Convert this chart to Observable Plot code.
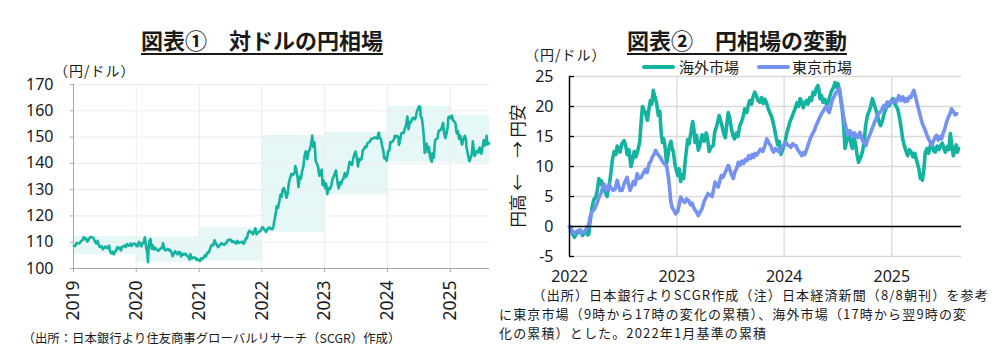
<!DOCTYPE html>
<html><head><meta charset="utf-8">
<script src="https://cdn.jsdelivr.net/npm/d3@7"></script>
<script src="https://cdn.jsdelivr.net/npm/@observablehq/plot@0.6"></script>
<style>
body{margin:0;background:#fff;}
#wrap{position:relative;width:1005px;height:364px;overflow:hidden;font-family:"Noto Sans CJK JP","Noto Sans",sans-serif;color:#1a1a1a;}
.abs{position:absolute;white-space:nowrap;z-index:2;}
.title{font-weight:bold;font-size:22px;line-height:22px;text-decoration:underline;text-decoration-thickness:1.5px;text-underline-offset:4px;text-align:center;width:400px;}
.unit{font-size:14px;line-height:18px;letter-spacing:1px;}
.leg{font-size:15px;line-height:18px;}
.sw{position:absolute;height:4px;width:33px;border-radius:2px;z-index:2;}
.cap2{font-size:13px;line-height:18px;letter-spacing:1.15px;}
</style></head>
<body><div id="wrap">
<div id="p1" class="abs" style="left:0;top:0;z-index:1"></div>
<div id="p2" class="abs" style="left:500px;top:0;z-index:1"></div>
<div class="abs title" style="left:62px;top:28px">図表①　対ドルの円相場</div>
<div class="abs title" style="left:537px;top:28px">図表②　円相場の変動</div>
<div class="abs unit" style="left:54px;top:61px">（円/ドル）</div>
<div class="abs unit" style="left:525px;top:45px">（円/ドル）</div>
<div class="sw" id="sw1" style="left:642px;top:64.7px"></div>
<div class="abs leg" id="lg1" style="left:679px;top:57.7px"></div>
<div class="sw" id="sw2" style="left:757px;top:64.7px"></div>
<div class="abs leg" id="lg2" style="left:792px;top:57.7px"></div>
<div class="abs" style="left:517px;top:166px;font-size:16.5px;line-height:18px;transform:translate(-50%,-50%) rotate(-90deg);">円高 ←　→ 円安</div>
<div class="abs" style="left:22.5px;top:330px;font-size:12.4px;line-height:16px;">（出所：日本銀行より住友商事グローバルリサーチ（SCGR）作成）</div>
<div class="abs cap2" style="left:532.5px;top:286px">（出所）日本銀行よりSCGR作成（注）日本経済新聞（8/8朝刊）を参考</div>
<div class="abs cap2" style="left:499px;top:305.2px">に東京市場（9時から17時の変化の累積）、海外市場（17時から翌9時の変</div>
<div class="abs cap2" style="left:499px;top:324.4px">化の累積）とした。2022年1月基準の累積</div>
</div>
<script>
const teal = "#14b3a0";
const blue = "#7692f0";

// ---- Chart 1: USD/JPY ----
const years1 = [2019, 2020, 2021, 2022, 2023, 2024, 2025];
const yearLow = [105.3, 102.4, 102.8, 113.8, 128.0, 140.4, 140.2];
const yearHigh = [112.2, 112.0, 115.5, 150.6, 151.9, 161.7, 158.3];
const yTicks1 = [100, 110, 120, 130, 140, 150, 160, 170];
const usdjpy = [
["2019-01-02",108.7],["2019-01-10",108.5],["2019-01-18",109.7],["2019-01-25",109.6],["2019-02-01",109.5],["2019-02-08",109.8],
["2019-02-15",110.5],["2019-02-22",110.7],["2019-03-01",111.9],["2019-03-08",111.2],["2019-03-15",111.5],["2019-03-22",110.2],
["2019-03-29",110.8],["2019-04-05",111.7],["2019-04-12",112.0],["2019-04-19",111.9],["2019-04-26",111.6],["2019-05-07",110.2],
["2019-05-14",109.5],["2019-05-21",110.5],["2019-05-31",108.3],["2019-06-07",108.2],["2019-06-14",108.5],["2019-06-21",107.3],
["2019-06-28",107.8],["2019-07-05",108.4],["2019-07-12",107.9],["2019-07-19",107.7],["2019-07-26",108.7],["2019-08-02",106.6],
["2019-08-09",105.7],["2019-08-16",106.4],["2019-08-23",105.4],["2019-08-30",106.3],["2019-09-06",106.9],["2019-09-13",108.1],
["2019-09-20",107.6],["2019-09-27",107.9],["2019-10-04",106.9],["2019-10-11",108.3],["2019-10-18",108.4],["2019-10-25",108.7],
["2019-11-01",108.2],["2019-11-08",109.3],["2019-11-15",108.8],["2019-11-22",108.7],["2019-11-29",109.5],["2019-12-06",108.6],
["2019-12-13",109.4],["2019-12-20",109.4],["2019-12-27",109.4],["2019-12-31",108.7],
["2020-01-08",108.4],["2020-01-17",110.1],["2020-01-24",109.3],["2020-01-31",108.4],["2020-02-07",109.8],["2020-02-14",109.8],
["2020-02-20",111.9],["2020-02-28",108.1],["2020-03-06",105.4],["2020-03-09",102.4],["2020-03-13",107.9],["2020-03-19",110.7],
["2020-03-24",111.2],["2020-03-31",107.5],["2020-04-07",108.8],["2020-04-14",107.2],["2020-04-21",107.8],["2020-04-30",107.2],
["2020-05-08",106.7],["2020-05-15",107.2],["2020-05-22",107.6],["2020-05-29",107.8],["2020-06-05",109.6],["2020-06-12",107.3],
["2020-06-19",106.9],["2020-06-26",107.2],["2020-07-03",107.5],["2020-07-10",106.9],["2020-07-17",107.0],["2020-07-24",106.1],
["2020-07-31",104.7],["2020-08-07",105.9],["2020-08-14",106.6],["2020-08-21",105.8],["2020-08-28",105.4],["2020-09-04",106.3],
["2020-09-11",106.2],["2020-09-18",104.6],["2020-09-25",105.6],["2020-10-02",105.3],["2020-10-09",105.6],["2020-10-16",105.4],
["2020-10-23",104.7],["2020-10-30",104.6],["2020-11-06",103.4],["2020-11-11",105.4],["2020-11-20",103.8],["2020-11-27",104.1],
["2020-12-04",104.2],["2020-12-11",104.0],["2020-12-18",103.3],["2020-12-25",103.6],["2020-12-31",103.2],
["2021-01-06",102.8],["2021-01-13",103.9],["2021-01-20",103.6],["2021-01-27",104.1],["2021-02-03",105.0],["2021-02-10",104.6],
["2021-02-17",106.0],["2021-02-24",105.9],["2021-03-03",106.9],["2021-03-10",108.4],["2021-03-17",109.0],["2021-03-24",108.9],
["2021-03-31",110.7],["2021-04-07",109.8],["2021-04-14",108.9],["2021-04-21",108.1],["2021-04-28",108.6],["2021-05-05",109.2],
["2021-05-12",109.6],["2021-05-19",109.2],["2021-05-26",109.0],["2021-06-02",109.6],["2021-06-09",109.6],["2021-06-16",110.7],
["2021-06-23",110.8],["2021-06-30",111.1],["2021-07-07",110.6],["2021-07-14",110.0],["2021-07-21",110.3],["2021-07-28",109.9],
["2021-08-04",109.5],["2021-08-11",110.5],["2021-08-18",109.8],["2021-08-25",110.0],["2021-09-01",110.0],["2021-09-08",110.2],
["2021-09-15",109.4],["2021-09-22",109.8],["2021-09-29",111.5],["2021-10-06",111.4],["2021-10-13",113.5],["2021-10-20",114.3],
["2021-10-27",113.8],["2021-11-03",113.9],["2021-11-10",113.0],["2021-11-17",114.1],["2021-11-24",115.3],["2021-12-01",113.0],
["2021-12-08",113.6],["2021-12-15",114.0],["2021-12-22",114.2],["2021-12-31",115.1],
["2022-01-04",115.8],["2022-01-11",115.3],["2022-01-18",114.6],["2022-01-25",113.9],["2022-02-01",114.8],["2022-02-08",115.4],
["2022-02-15",115.6],["2022-02-22",115.0],["2022-03-01",114.9],["2022-03-08",115.6],["2022-03-15",118.3],["2022-03-22",120.7],
["2022-03-28",123.7],["2022-04-05",123.1],["2022-04-12",125.4],["2022-04-19",128.1],["2022-04-26",127.3],["2022-05-02",130.1],
["2022-05-09",130.6],["2022-05-16",129.1],["2022-05-24",126.9],["2022-05-31",128.6],["2022-06-07",132.6],["2022-06-14",134.5],
["2022-06-21",136.0],["2022-06-28",135.5],["2022-07-05",135.9],["2022-07-12",137.0],["2022-07-14",139.0],["2022-07-21",137.3],
["2022-07-28",134.2],["2022-08-02",131.0],["2022-08-09",135.0],["2022-08-16",134.2],["2022-08-23",136.9],["2022-08-30",138.7],
["2022-09-06",142.8],["2022-09-13",144.6],["2022-09-20",143.6],["2022-09-22",141.6],["2022-09-29",144.4],["2022-10-06",145.1],
["2022-10-13",147.1],["2022-10-20",149.9],["2022-10-21",150.6],["2022-10-27",146.3],["2022-11-03",148.0],["2022-11-10",141.0],
["2022-11-17",139.8],["2022-11-24",138.6],["2022-12-01",135.3],["2022-12-08",136.6],["2022-12-15",137.6],["2022-12-20",131.8],
["2022-12-27",133.4],
["2023-01-03",130.6],["2023-01-10",132.2],["2023-01-16",128.3],["2023-01-24",130.6],["2023-01-31",130.2],["2023-02-08",131.4],
["2023-02-15",133.9],["2023-02-22",134.8],["2023-03-01",136.2],["2023-03-08",137.3],["2023-03-14",134.2],["2023-03-20",131.4],
["2023-03-24",130.5],["2023-03-31",132.8],["2023-04-07",132.2],["2023-04-14",133.7],["2023-04-21",134.2],["2023-04-28",136.3],
["2023-05-05",134.8],["2023-05-12",135.7],["2023-05-19",137.9],["2023-05-26",140.6],["2023-06-02",139.8],["2023-06-09",139.4],
["2023-06-16",141.8],["2023-06-23",143.5],["2023-06-30",144.5],["2023-07-07",142.1],["2023-07-14",138.8],["2023-07-21",141.7],
["2023-07-28",141.2],["2023-08-04",141.8],["2023-08-11",144.9],["2023-08-18",145.4],["2023-08-25",146.4],["2023-09-01",146.2],
["2023-09-08",147.8],["2023-09-15",147.9],["2023-09-22",148.4],["2023-09-29",149.3],["2023-10-06",149.3],["2023-10-13",149.6],
["2023-10-20",149.9],["2023-10-27",149.6],["2023-11-03",149.4],["2023-11-10",151.5],["2023-11-13",151.7],["2023-11-17",149.6],
["2023-11-24",149.4],["2023-12-01",146.7],["2023-12-08",144.9],["2023-12-14",141.9],["2023-12-21",142.2],["2023-12-28",141.0],
["2024-01-05",144.6],["2024-01-12",144.9],["2024-01-19",148.1],["2024-01-26",148.1],["2024-02-02",148.4],["2024-02-09",149.3],
["2024-02-13",150.5],["2024-02-20",150.0],["2024-02-27",150.5],["2024-03-05",150.0],["2024-03-08",147.0],["2024-03-15",149.1],
["2024-03-22",151.4],["2024-03-27",151.6],["2024-04-05",151.6],["2024-04-12",153.3],["2024-04-19",154.6],["2024-04-26",157.8],
["2024-05-03",153.0],["2024-05-10",155.8],["2024-05-17",155.6],["2024-05-24",157.0],["2024-05-31",157.3],["2024-06-07",156.7],
["2024-06-14",157.4],["2024-06-21",159.8],["2024-06-28",160.9],["2024-07-03",161.7],["2024-07-10",161.4],["2024-07-12",157.9],
["2024-07-19",157.4],["2024-07-26",153.8],["2024-08-01",149.4],["2024-08-05",144.0],["2024-08-09",147.0],["2024-08-16",147.5],
["2024-08-23",144.3],["2024-08-30",146.2],["2024-09-06",142.3],["2024-09-13",140.8],["2024-09-16",140.6],["2024-09-20",143.9],
["2024-09-27",142.2],["2024-10-04",148.7],["2024-10-11",149.2],["2024-10-18",149.5],["2024-10-25",152.3],["2024-11-01",152.7],
["2024-11-08",152.7],["2024-11-15",154.3],["2024-11-20",155.4],["2024-11-27",151.1],["2024-12-03",149.6],["2024-12-10",151.4],
["2024-12-17",153.8],["2024-12-20",157.4],["2024-12-27",157.8],
["2025-01-03",157.2],["2025-01-10",158.2],["2025-01-17",156.3],["2025-01-24",156.0],["2025-01-31",155.2],["2025-02-07",151.4],
["2025-02-14",152.3],["2025-02-21",149.3],["2025-02-28",150.6],["2025-03-07",147.9],["2025-03-11",147.2],["2025-03-18",149.3],
["2025-03-26",150.5],["2025-04-02",149.3],["2025-04-04",146.5],["2025-04-09",144.8],["2025-04-16",142.6],["2025-04-22",140.8],
["2025-04-29",142.2],["2025-05-06",143.4],["2025-05-12",148.4],["2025-05-16",145.7],["2025-05-23",142.8],["2025-05-30",144.0],
["2025-06-06",144.8],["2025-06-13",144.1],["2025-06-20",146.0],["2025-06-24",145.3],["2025-07-01",143.7],["2025-07-08",146.4],
["2025-07-15",148.9],["2025-07-22",146.8],["2025-07-29",148.4],["2025-07-31",150.5],["2025-08-05",147.2],["2025-08-08",147.6],
["2025-08-15",147.6]
];
const end1 = new Date("2025-08-17");

// ---- Chart 2: cumulative change by session ----
const years2 = [2022, 2023, 2024, 2025];
const yTicks2 = [-5, 0, 5, 10, 15, 20, 25];
const legendNames = ["海外市場", "東京市場"];
const overseas = [
["2022-01-01",0],["2022-01-05",-0.4],["2022-01-08",-0.8],["2022-01-12",-1.3],["2022-01-18",-1.8],["2022-01-24",-1.2],
["2022-02-01",-1.0],["2022-02-07",-0.6],["2022-02-14",-1.5],["2022-02-21",-1.1],["2022-02-28",-0.8],["2022-03-04",-1.4],
["2022-03-08",-1.2],["2022-03-11",0.5],["2022-03-15",1.8],["2022-03-18",3.0],["2022-03-24",4.4],["2022-04-01",5.0],
["2022-04-06",6.2],["2022-04-11",8.0],["2022-04-15",7.0],["2022-04-20",7.6],["2022-04-25",6.5],["2022-05-02",5.8],
["2022-05-09",5.0],["2022-05-13",6.2],["2022-05-18",7.5],["2022-05-22",9.0],["2022-05-27",11.2],["2022-06-02",12.5],
["2022-06-08",12.0],["2022-06-12",13.4],["2022-06-16",13.0],["2022-06-22",12.4],["2022-06-28",13.8],["2022-07-06",14.3],
["2022-07-11",13.5],["2022-07-16",12.0],["2022-07-22",12.8],["2022-07-29",10.0],["2022-08-03",11.0],["2022-08-09",12.5],
["2022-08-15",11.6],["2022-08-23",13.0],["2022-08-28",14.2],["2022-09-01",17.0],["2022-09-06",20.0],["2022-09-11",19.4],
["2022-09-16",19.0],["2022-09-20",18.2],["2022-09-23",17.7],["2022-09-28",19.5],["2022-10-03",21.0],["2022-10-08",20.4],
["2022-10-13",22.7],["2022-10-17",21.8],["2022-10-20",21.5],["2022-10-25",20.3],["2022-10-30",18.5],["2022-11-04",19.2],
["2022-11-09",15.5],["2022-11-13",14.0],["2022-11-18",14.6],["2022-11-23",12.8],["2022-11-27",10.5],["2022-12-02",11.8],
["2022-12-07",13.5],["2022-12-12",14.2],["2022-12-16",13.0],["2022-12-20",12.5],["2022-12-26",10.2],
["2023-01-04",8.5],["2023-01-09",9.6],["2023-01-14",7.5],["2023-01-19",8.6],["2023-01-24",8.0],["2023-01-30",11.2],
["2023-02-07",14.5],["2023-02-12",13.8],["2023-02-17",15.4],["2023-02-24",17.5],["2023-02-28",16.2],["2023-03-04",14.0],
["2023-03-09",15.2],["2023-03-15",12.7],["2023-03-21",13.6],["2023-03-28",15.3],["2023-04-04",14.2],["2023-04-11",15.6],
["2023-04-16",14.4],["2023-04-21",12.5],["2023-04-27",13.2],["2023-05-05",13.5],["2023-05-10",15.8],["2023-05-16",16.6],
["2023-05-25",18.5],["2023-05-30",17.6],["2023-06-05",16.5],["2023-06-10",15.4],["2023-06-15",14.8],["2023-06-20",17.0],
["2023-06-25",19.0],["2023-06-30",18.0],["2023-07-05",16.5],["2023-07-10",15.3],["2023-07-16",14.6],["2023-07-23",15.6],
["2023-07-28",15.0],["2023-08-03",16.8],["2023-08-10",17.6],["2023-08-15",18.4],["2023-08-20",19.6],["2023-08-27",19.0],
["2023-09-01",20.2],["2023-09-06",21.0],["2023-09-12",20.4],["2023-09-17",21.6],["2023-09-23",22.4],["2023-09-28",21.8],
["2023-10-04",21.0],["2023-10-10",20.7],["2023-10-16",21.5],["2023-10-22",20.5],["2023-10-27",21.2],["2023-11-02",20.6],
["2023-11-08",19.6],["2023-11-13",19.0],["2023-11-20",18.2],["2023-11-27",16.8],["2023-12-04",15.0],["2023-12-10",13.6],
["2023-12-15",14.2],["2023-12-21",12.0],["2023-12-27",12.8],
["2024-01-04",14.0],["2024-01-10",15.6],["2024-01-15",16.4],["2024-01-21",17.5],["2024-01-27",18.2],["2024-02-02",19.0],
["2024-02-07",19.6],["2024-02-13",20.6],["2024-02-19",20.0],["2024-02-24",21.3],["2024-03-01",20.8],["2024-03-06",19.8],
["2024-03-11",20.5],["2024-03-17",21.0],["2024-03-22",20.4],["2024-03-28",21.5],["2024-04-03",21.0],["2024-04-08",22.4],
["2024-04-14",22.0],["2024-04-19",23.0],["2024-04-25",23.5],["2024-04-29",22.6],["2024-05-02",21.3],["2024-05-07",21.8],
["2024-05-12",20.7],["2024-05-18",21.2],["2024-05-25",20.2],["2024-05-31",21.0],["2024-06-05",21.8],["2024-06-09",22.5],
["2024-06-15",23.0],["2024-06-22",24.0],["2024-06-27",23.2],["2024-07-02",23.8],["2024-07-08",22.4],["2024-07-12",21.0],
["2024-07-16",19.6],["2024-07-21",17.0],["2024-07-26",13.0],["2024-08-01",14.4],["2024-08-06",15.7],["2024-08-12",14.6],
["2024-08-16",13.6],["2024-08-20",13.0],["2024-08-25",14.8],["2024-08-30",14.0],["2024-09-04",12.2],["2024-09-10",10.7],
["2024-09-16",11.4],["2024-09-23",12.4],["2024-09-29",14.2],["2024-10-04",16.8],["2024-10-10",18.5],["2024-10-16",19.2],
["2024-10-21",20.0],["2024-10-27",21.3],["2024-11-01",20.5],["2024-11-07",19.6],["2024-11-13",18.6],["2024-11-19",17.4],
["2024-11-24",16.8],["2024-11-30",17.6],["2024-12-07",19.0],["2024-12-12",19.6],["2024-12-17",20.7],["2024-12-23",20.1],
["2025-01-04",21.3],["2025-01-10",20.6],["2025-01-16",20.0],["2025-01-21",19.6],["2025-01-27",18.2],["2025-02-02",16.4],
["2025-02-07",14.6],["2025-02-13",13.4],["2025-02-18",12.6],["2025-02-24",11.8],["2025-03-02",12.8],["2025-03-08",12.4],
["2025-03-14",11.6],["2025-03-20",12.2],["2025-03-28",10.7],["2025-04-03",9.6],["2025-04-08",8.0],["2025-04-12",8.6],
["2025-04-15",7.7],["2025-04-20",9.5],["2025-04-25",12.4],["2025-05-01",13.0],["2025-05-06",12.2],["2025-05-12",13.5],
["2025-05-18",13.9],["2025-05-23",12.6],["2025-05-29",12.4],["2025-06-04",13.4],["2025-06-10",12.8],["2025-06-16",13.5],
["2025-06-22",13.9],["2025-06-27",13.0],["2025-07-02",12.4],["2025-07-08",13.3],["2025-07-14",12.8],["2025-07-19",15.5],
["2025-07-23",14.0],["2025-07-29",11.8],["2025-08-03",12.6],["2025-08-08",13.6],["2025-08-12",12.4],["2025-08-16",13.0]
];
const tokyo = [
["2022-01-01",0],["2022-01-05",-0.3],["2022-01-08",-0.5],["2022-01-13",-0.9],["2022-01-18",-1.2],["2022-01-25",-0.8],
["2022-02-03",-0.6],["2022-02-10",-1.1],["2022-02-18",-1.0],["2022-02-25",-0.5],["2022-03-04",-0.2],["2022-03-09",0.8],
["2022-03-14",2.0],["2022-03-21",2.6],["2022-03-28",3.0],["2022-04-04",3.8],["2022-04-11",4.8],["2022-04-18",5.5],
["2022-04-23",6.4],["2022-04-28",7.1],["2022-05-04",6.4],["2022-05-09",6.0],["2022-05-15",7.0],["2022-05-22",6.5],
["2022-05-29",6.0],["2022-06-05",6.2],["2022-06-12",7.7],["2022-06-17",6.8],["2022-06-22",6.0],["2022-06-29",6.0],
["2022-07-05",7.0],["2022-07-10",7.6],["2022-07-16",8.2],["2022-07-21",7.0],["2022-07-26",6.0],["2022-08-01",6.8],
["2022-08-06",7.5],["2022-08-12",7.0],["2022-08-19",8.8],["2022-08-25",8.0],["2022-09-02",8.2],["2022-09-09",8.9],
["2022-09-16",9.5],["2022-09-22",9.0],["2022-09-29",10.5],["2022-10-04",10.8],["2022-10-09",11.5],["2022-10-15",12.0],
["2022-10-21",12.7],["2022-10-26",12.2],["2022-11-01",11.8],["2022-11-06",11.5],["2022-11-11",11.0],["2022-11-18",10.5],
["2022-11-24",10.3],["2022-11-28",9.9],["2022-12-04",8.0],["2022-12-08",6.0],["2022-12-11",4.3],["2022-12-16",3.2],
["2022-12-21",2.8],["2022-12-28",2.1],
["2023-01-04",2.5],["2023-01-09",3.6],["2023-01-14",4.9],["2023-01-20",4.4],["2023-01-28",4.0],["2023-02-03",4.6],
["2023-02-10",4.3],["2023-02-17",3.6],["2023-02-22",3.9],["2023-02-27",3.2],["2023-03-03",2.8],["2023-03-08",2.5],
["2023-03-15",1.8],["2023-03-21",2.4],["2023-03-28",3.0],["2023-04-04",4.2],["2023-04-10",4.8],["2023-04-17",5.5],
["2023-04-24",5.2],["2023-05-01",5.0],["2023-05-06",6.2],["2023-05-11",7.4],["2023-05-16",6.8],["2023-05-22",6.6],
["2023-05-27",7.6],["2023-06-01",8.5],["2023-06-07",8.2],["2023-06-14",9.0],["2023-06-20",9.6],["2023-06-25",10.2],
["2023-07-01",9.4],["2023-07-06",8.6],["2023-07-12",8.0],["2023-07-18",9.2],["2023-07-23",9.6],["2023-07-29",10.7],
["2023-08-04",10.2],["2023-08-10",10.9],["2023-08-16",10.5],["2023-08-22",11.2],["2023-08-28",11.0],["2023-09-02",11.8],
["2023-09-08",11.3],["2023-09-14",12.0],["2023-09-19",11.5],["2023-09-25",12.2],["2023-09-30",11.9],["2023-10-06",12.4],
["2023-10-12",12.9],["2023-10-20",12.5],["2023-10-27",13.4],["2023-11-03",14.6],["2023-11-09",14.0],["2023-11-16",13.5],
["2023-11-21",12.8],["2023-11-26",12.4],["2023-12-03",13.0],["2023-12-10",12.6],["2023-12-17",12.4],["2023-12-24",13.2],
["2023-12-30",13.6],
["2024-01-07",14.0],["2024-01-13",13.6],["2024-01-19",13.4],["2024-01-24",13.2],["2024-01-30",13.8],["2024-02-04",13.5],
["2024-02-10",13.5],["2024-02-16",12.8],["2024-02-22",12.4],["2024-03-01",11.8],["2024-03-06",12.3],["2024-03-11",12.0],
["2024-03-15",12.5],["2024-03-20",13.2],["2024-03-25",14.0],["2024-03-31",14.8],["2024-04-08",15.6],["2024-04-13",16.0],
["2024-04-18",16.8],["2024-04-24",17.4],["2024-04-29",18.0],["2024-05-05",18.6],["2024-05-10",19.0],["2024-05-16",19.5],
["2024-05-23",20.0],["2024-05-28",19.4],["2024-06-02",19.0],["2024-06-07",20.0],["2024-06-12",21.0],["2024-06-18",21.6],
["2024-06-26",22.4],["2024-07-01",22.6],["2024-07-07",23.0],["2024-07-11",21.6],["2024-07-16",20.0],["2024-07-22",18.0],
["2024-07-30",16.3],["2024-08-05",15.2],["2024-08-10",16.0],["2024-08-16",15.7],["2024-08-22",15.0],["2024-08-27",15.6],
["2024-09-01",15.2],["2024-09-07",14.8],["2024-09-15",15.7],["2024-09-21",14.6],["2024-09-27",14.0],["2024-10-05",13.5],
["2024-10-12",14.6],["2024-10-19",15.4],["2024-10-26",16.3],["2024-11-02",17.2],["2024-11-07",17.8],["2024-11-12",18.5],
["2024-11-19",18.9],["2024-11-24",19.2],["2024-11-29",19.6],["2024-12-05",20.2],["2024-12-10",19.8],["2024-12-16",20.7],
["2024-12-22",20.4],["2024-12-28",20.9],
["2025-01-05",20.7],["2025-01-12",21.2],["2025-01-18",20.8],["2025-01-25",21.8],["2025-02-01",21.0],["2025-02-08",21.6],
["2025-02-14",20.8],["2025-02-18",21.3],["2025-02-24",20.9],["2025-03-01",21.6],["2025-03-07",21.5],["2025-03-12",22.2],
["2025-03-17",22.7],["2025-03-22",21.8],["2025-03-27",20.7],["2025-04-03",19.4],["2025-04-10",18.0],["2025-04-16",17.0],
["2025-04-22",16.4],["2025-04-27",15.7],["2025-05-03",14.9],["2025-05-10",14.2],["2025-05-17",13.5],["2025-05-23",14.3],
["2025-05-28",14.8],["2025-06-02",15.2],["2025-06-08",14.4],["2025-06-13",15.0],["2025-06-19",14.6],["2025-06-25",15.6],
["2025-07-01",16.4],["2025-07-06",17.4],["2025-07-12",18.2],["2025-07-18",18.8],["2025-07-23",19.6],["2025-07-29",19.2],
["2025-08-04",18.6],["2025-08-10",18.8]
];
const end2 = new Date("2025-08-26");

document.getElementById("sw1").style.background = teal;
document.getElementById("sw2").style.background = blue;
document.getElementById("lg1").textContent = legendNames[0];
document.getElementById("lg2").textContent = legendNames[1];

const yd = y => new Date(Date.UTC(y, 0, 1));
const ranges = years1.map((y, i) => ({x1: yd(y), x2: i < years1.length - 1 ? yd(y + 1) : end1, lo: yearLow[i], hi: yearHigh[i]}));
const baseStyle = {fontFamily: '"Noto Sans", sans-serif', fontSize: "16px", color: "#1a1a1a", background: "transparent", overflow: "visible"};

const p1 = Plot.plot({
  width: 500, height: 330,
  marginLeft: 73, marginRight: 11, marginTop: 84, marginBottom: 62,
  style: baseStyle,
  x: {type: "utc", domain: [yd(years1[0]), end1]},
  y: {domain: [yTicks1[0], yTicks1[yTicks1.length - 1]]},
  marks: [
    Plot.rect(ranges, {x1: "x1", x2: "x2", y1: "lo", y2: "hi", fill: "#e6f7f7"}),
    Plot.gridY(yTicks1.slice(1), {stroke: "#ececec", strokeOpacity: 1}),
    Plot.gridX(years1.slice(1).map(yd), {stroke: "#ececec", strokeOpacity: 1}),
    Plot.line(usdjpy, {x: d => new Date(d[0]), y: d => d[1], stroke: teal, strokeWidth: 2.6}),
    Plot.ruleX([yd(years1[0])], {stroke: "#a6a6a6"}),
    Plot.ruleY([yTicks1[0]], {stroke: "#a6a6a6"}),
    Plot.axisY({ticks: yTicks1, tickSize: 3, tickPadding: 17, stroke: "#a6a6a6", fill: "#1a1a1a"}),
    Plot.axisX({ticks: years1.map(yd), tickFormat: "%Y", tickRotate: -90, tickSize: 4, tickPadding: 8, fontSize: 17.5, stroke: "#a6a6a6", fill: "#1a1a1a"})
  ]
});
document.getElementById("p1").appendChild(p1);

const plotW2 = 505 - 69 - 44;
const p2 = Plot.plot({
  width: 505, height: 300,
  marginLeft: 69, marginRight: 44, marginTop: 76, marginBottom: 44,
  style: baseStyle,
  x: {type: "utc", domain: [yd(years2[0]), end2]},
  y: {domain: [yTicks2[0], yTicks2[yTicks2.length - 1]]},
  marks: [
    Plot.gridY(yTicks2, {stroke: "#d9d9d9", strokeOpacity: 1, strokeWidth: 1.3}),
    Plot.gridX(years2.slice(1).map(yd), {stroke: "#d9d9d9", strokeOpacity: 1, strokeWidth: 1.3}),
    Plot.line(overseas, {x: d => new Date(d[0]), y: d => d[1], stroke: teal, strokeWidth: 3.6}),
    Plot.line(tokyo, {x: d => new Date(d[0]), y: d => d[1], stroke: blue, strokeWidth: 3.6}),
    Plot.ruleY([0], {stroke: "#000", strokeWidth: 1.5}),
    Plot.ruleX([yd(years2[0])], {stroke: "#000", strokeWidth: 1.5}),
    Plot.ruleY(yTicks2, {stroke: "#000", strokeWidth: 1.3, insetRight: plotW2 - 5}),
    Plot.axisY({ticks: yTicks2, tickSize: 0, tickPadding: 16, tickFormat: d => String(d), fill: "#1a1a1a"}),
    Plot.axisX({ticks: years2.map(yd), tickFormat: "%Y", tickSize: 0, tickPadding: 14, fill: "#1a1a1a"})
  ]
});
document.getElementById("p2").appendChild(p2);
</script>
</body></html>
